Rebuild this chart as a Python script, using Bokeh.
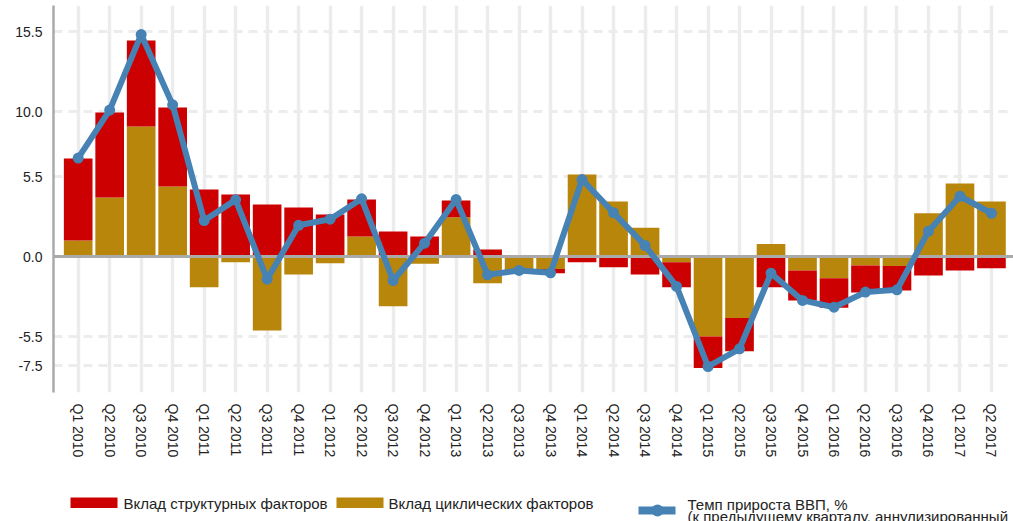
import numpy as np
from bokeh.plotting import figure
from bokeh.models import FixedTicker, Range1d, PrintfTickFormatter
from bokeh.layouts import column
from bokeh.embed import file_html
from bokeh.resources import INLINE
from bokeh.core.properties import value

quarters = ["Q1 2010", "Q2 2010", "Q3 2010", "Q4 2010",
            "Q1 2011", "Q2 2011", "Q3 2011", "Q4 2011",
            "Q1 2012", "Q2 2012", "Q3 2012", "Q4 2012",
            "Q1 2013", "Q2 2013", "Q3 2013", "Q4 2013",
            "Q1 2014", "Q2 2014", "Q3 2014", "Q4 2014",
            "Q1 2015", "Q2 2015", "Q3 2015", "Q4 2015",
            "Q1 2016", "Q2 2016", "Q3 2016", "Q4 2016",
            "Q1 2017", "Q2 2017"]
structural = [5.65, 5.85, 5.92, 5.44, 4.63, 4.29, 3.60, 3.39, 2.91, 2.54,
              1.74, 1.40, 1.14, 0.50, -0.05, -0.30, -0.37, -0.71, -1.22, -1.72,
              -2.17, -2.28, -2.09, -2.06, -2.04, -1.86, -1.68, -1.29, -0.94, -0.78]
cyclical = [1.12, 4.08, 8.97, 4.84, -2.09, -0.37, -5.07, -1.22, -0.44, 1.40,
            -3.40, -0.48, 2.73, -1.82, -0.88, -0.83, 5.66, 3.80, 2.00, -0.37,
            -5.49, -4.22, 0.89, -0.94, -1.47, -0.60, -0.64, 3.00, 5.04, 3.80]
gdp_growth = [6.80, 10.10, 15.30, 10.46, 2.50, 3.92, -1.54, 2.17, 2.59, 3.99,
              -1.63, 0.94, 3.94, -1.24, -0.94, -1.10, 5.32, 3.03, 0.78, -2.04,
              -7.55, -6.33, -1.13, -3.00, -3.47, -2.43, -2.27, 1.76, 4.17, 3.00]
y_ticks = [-7.5, -5.5, 0.0, 5.5, 10.0, 15.5]
legend_labels = ["Вклад структурных факторов", "Вклад циклических факторов",
                 "Темп прироста ВВП, %", " (к предыдущему кварталу, аннулизированный"]

FONT = "Liberation Sans"
RED = "#CC0000"
GOLD = "#B8860B"
BLUE = "#4682B4"

x = np.arange(len(quarters))
cyc = np.array(cyclical)
st = np.array(structural)
same = np.sign(cyc) == np.sign(st)
st_bottom = np.where(same, cyc, 0.0)
st_top = st_bottom + st

p = figure(width=1013, height=460,
           x_range=Range1d(-0.784, 29.70), y_range=Range1d(-9.34, 17.30),
           output_backend="svg", toolbar_location=None,
           min_border_left=53, min_border_right=0, min_border_top=5,
           min_border_bottom=68)
p.outline_line_color = None
p.background_fill_color = "white"
p.border_fill_color = "white"

p.vbar(x=x, bottom=0, top=cyc, width=0.91, fill_color=GOLD, line_color=None)
p.vbar(x=x, bottom=st_bottom, top=st_top, width=0.91, fill_color=RED, line_color=None)
p.hspan(y=[0], line_color="#aaaaaa", line_width=3)
p.line(x=x, y=gdp_growth, line_color=BLUE, line_width=6)
p.scatter(x=x, y=gdp_growth, size=11, fill_color=BLUE, line_color=None)

p.xaxis.ticker = FixedTicker(ticks=list(range(len(quarters))))
p.xaxis.major_label_overrides = {int(i): q for i, q in enumerate(quarters)}
p.xaxis.major_label_orientation = "vertical"
p.xaxis.axis_line_color = None
p.xaxis.major_tick_line_color = None
p.xaxis.minor_tick_line_color = None
p.xaxis.major_label_standoff = 5

p.yaxis.ticker = FixedTicker(ticks=y_ticks)
p.yaxis.formatter = PrintfTickFormatter(format="%.1f")
p.yaxis.axis_line_color = "#aaaaaa"
p.yaxis.axis_line_width = 2.5
p.yaxis.major_tick_line_color = None
p.yaxis.minor_tick_line_color = None
p.yaxis.major_label_standoff = 5

for ax in (p.xaxis, p.yaxis):
    ax.major_label_text_font = FONT
    ax.major_label_text_font_size = "14px"
    ax.major_label_text_color = "#222222"

p.xgrid.grid_line_color = "#ececec"
p.xgrid.grid_line_width = 3.5
p.ygrid.grid_line_color = "#ececec"
p.ygrid.grid_line_width = 3
p.ygrid.grid_line_dash = "9 6"

# legend strip; the column aligns its frame with the chart frame (x 53..1013),
# so data coordinates here equal page pixels
lg = figure(width=1013, height=61, x_range=Range1d(53, 1013), y_range=Range1d(521, 460),
            output_backend="svg", toolbar_location=None,
            x_axis_type=None, y_axis_type=None, min_border=0)
lg.outline_line_color = None
lg.grid.visible = False
lg.quad(left=[70, 336], right=[117, 383], top=[497, 497], bottom=[507.5, 507.5],
        fill_color=[RED, GOLD], line_color=None)
lg.line(x=[638, 675], y=[510, 510], line_color=BLUE, line_width=8)
lg.scatter(x=[657], y=[510], size=12, fill_color=BLUE, line_color=None)
lg.text(x=[123, 388, 687], y=[503, 503, 504], text=legend_labels[:3],
        text_baseline="middle", text_font=value(FONT), text_font_size="15px",
        text_color="#222222")
lg.text(x=[687], y=[516], text=legend_labels[3:],
        text_baseline="middle", text_font=value(FONT), text_font_size="15px",
        text_color="#222222")

layout = column(p, lg, spacing=0)
open("out.html", "w").write(file_html(layout, INLINE))
